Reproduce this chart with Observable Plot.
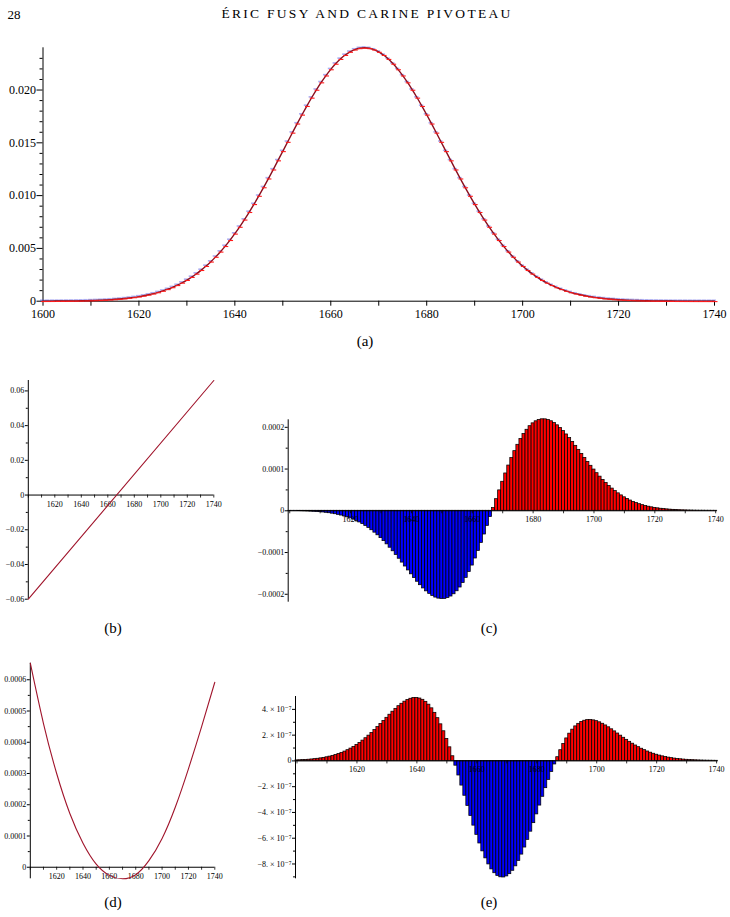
<!DOCTYPE html>
<html><head><meta charset="utf-8">
<script src="https://cdn.jsdelivr.net/npm/d3@7"></script>
<script src="https://cdn.jsdelivr.net/npm/@observablehq/plot@0.6"></script>
<style>
html,body{margin:0;padding:0;background:#fff;}
#page{position:relative;width:730px;height:917px;overflow:hidden;font-family:"Liberation Serif","Times New Roman","DejaVu Serif",serif;color:#000;background:#fff;}
.abs{position:absolute;}
.lbl{position:absolute;transform:translate(-50%,-50%);white-space:nowrap;line-height:1;}
svg{overflow:visible;}
</style></head><body><div id="page"></div>
<script>
// ---------- data ----------
const xStart = 1600; // first integer abscissa of the per-integer series
// (a) distribution, one value per integer 1600..1740
const distA = [
0.000007,0.000009,0.000011,0.000014,0.000018,0.000022,0.000028,0.000035,0.000043,0.000054,
0.000066,0.000081,0.000099,0.000121,0.000147,0.000178,0.000214,0.000257,0.000308,0.000367,
0.000436,0.000516,0.000609,0.000715,0.000838,0.000977,0.001136,0.001316,0.001519,0.001747,
0.002002,0.002285,0.002599,0.002946,0.003327,0.003744,0.004197,0.004688,0.005217,0.005786,
0.006393,0.007038,0.007721,0.008439,0.009190,0.009972,0.010781,0.011614,0.012466,0.013331,
0.014206,0.015083,0.015954,0.016817,0.017662,0.018481,0.019269,0.020017,0.020719,0.021369,
0.021958,0.022482,0.022936,0.023313,0.023611,0.023826,0.023957,0.024000,0.023957,0.023826,
0.023611,0.023313,0.022936,0.022482,0.021958,0.021369,0.020719,0.020017,0.019269,0.018481,
0.017662,0.016817,0.015954,0.015083,0.014206,0.013331,0.012466,0.011614,0.010781,0.009972,
0.009190,0.008439,0.007721,0.007038,0.006393,0.005786,0.005217,0.004688,0.004197,0.003744,
0.003327,0.002946,0.002599,0.002285,0.002002,0.001747,0.001519,0.001316,0.001136,0.000977,
0.000838,0.000715,0.000609,0.000516,0.000436,0.000367,0.000308,0.000257,0.000214,0.000178,
0.000147,0.000121,0.000099,0.000081,0.000066,0.000054,0.000043,0.000035,0.000028,0.000022,
0.000018,0.000014,0.000011,0.000009,0.000007,0.000005,0.000004,0.000003,0.000003,0.000002,
0.000002
];
// (b) straight line, end points
const lineBx = [1600, 1740];
const lineBy = [-0.060, 0.066];
// (c) first difference, one bar per integer 1600..1740
const diffC = [
-0.4e-6,-0.5e-6,-0.7e-6,-0.8e-6,-1.0e-6,-1.2e-6,-1.5e-6,-1.9e-6,-2.3e-6,-2.8e-6,
-3.3e-6,-4.0e-6,-4.8e-6,-5.8e-6,-6.9e-6,-8.2e-6,-9.7e-6,-11.4e-6,-13.4e-6,-15.6e-6,
-18.1e-6,-21.0e-6,-24.3e-6,-27.9e-6,-31.9e-6,-36.3e-6,-41.2e-6,-46.6e-6,-52.4e-6,-58.7e-6,
-65.5e-6,-72.7e-6,-80.4e-6,-88.5e-6,-97.0e-6,-105.8e-6,-114.9e-6,-124.1e-6,-133.5e-6,-142.9e-6,
-152.2e-6,-161.3e-6,-170.0e-6,-178.3e-6,-186.0e-6,-193.0e-6,-199.0e-6,-204.0e-6,-207.9e-6,-210.4e-6,
-211.5e-6,-211.1e-6,-209.1e-6,-205.4e-6,-200.0e-6,-192.8e-6,-183.8e-6,-173.1e-6,-160.7e-6,-146.7e-6,
-131.2e-6,-114.3e-6,-96.1e-6,-76.9e-6,-56.8e-6,-36.1e-6,-15.0e-6,6.4e-6,27.8e-6,48.9e-6,
69.5e-6,89.4e-6,108.4e-6,126.3e-6,142.9e-6,158.1e-6,171.8e-6,183.8e-6,194.1e-6,202.7e-6,
209.5e-6,214.4e-6,217.7e-6,219.2e-6,219.1e-6,217.5e-6,214.5e-6,210.2e-6,204.8e-6,198.3e-6,
190.9e-6,182.9e-6,174.2e-6,165.1e-6,155.6e-6,146.0e-6,136.3e-6,126.6e-6,117.1e-6,107.8e-6,
98.8e-6,90.1e-6,81.8e-6,74.0e-6,66.6e-6,59.7e-6,53.2e-6,47.3e-6,41.8e-6,36.9e-6,
32.3e-6,28.3e-6,24.6e-6,21.3e-6,18.4e-6,15.8e-6,13.5e-6,11.5e-6,9.8e-6,8.3e-6,
7.0e-6,5.9e-6,4.9e-6,4.1e-6,3.4e-6,2.8e-6,2.3e-6,1.9e-6,1.5e-6,1.2e-6,
1.0e-6,0.8e-6,0.7e-6,0.5e-6,0.4e-6,0.3e-6,0.3e-6,0.2e-6,0.2e-6,0.1e-6,
0.1e-6
];
// (d) curve, read every 10 units
const curveDx = [1600,1610,1620,1630,1640,1650,1660,1670,1680,1690,1700,1710,1720,1730,1740];
const curveDy = [0.000653,0.000460,0.000300,0.000172,0.000077,0.000010,-0.000026,-0.000037,-0.000024,0.000021,0.000092,0.000192,0.000315,0.000450,0.000592];
// (e) second difference, one bar per integer 1600..1740
const diffE = [
4.2e-9,5.1e-9,6.3e-9,7.7e-9,9.3e-9,11.4e-9,13.8e-9,16.6e-9,19.8e-9,23.7e-9,
28.2e-9,33.4e-9,39.3e-9,46.2e-9,53.9e-9,62.6e-9,72.4e-9,83.4e-9,95.7e-9,109.1e-9,
123.9e-9,140.0e-9,157.5e-9,176.2e-9,196.2e-9,217.4e-9,239.5e-9,262.6e-9,286.3e-9,310.4e-9,
334.6e-9,358.5e-9,381.9e-9,404.1e-9,424.9e-9,443.6e-9,459.9e-9,472.9e-9,482.5e-9,487.9e-9,
488.7e-9,484.3e-9,474.4e-9,458.6e-9,436.6e-9,408.2e-9,373.2e-9,331.8e-9,284.0e-9,230.1e-9,
170.5e-9,105.6e-9,36.2e-9,-37.0e-9,-113.2e-9,-191.4e-9,-270.5e-9,-349.4e-9,-427.1e-9,-502.3e-9,
-573.9e-9,-640.8e-9,-702.0e-9,-756.4e-9,-803.4e-9,-842.1e-9,-871.8e-9,-892.4e-9,-903.4e-9,-904.7e-9,
-896.5e-9,-879.1e-9,-852.8e-9,-818.2e-9,-776.0e-9,-727.1e-9,-672.3e-9,-612.7e-9,-549.2e-9,-483.1e-9,
-415.1e-9,-346.6e-9,-278.5e-9,-211.7e-9,-147.1e-9,-85.5e-9,-27.5e-9,28.9e-9,83.1e-9,131.7e-9,
174.5e-9,211.5e-9,242.7e-9,268.0e-9,287.9e-9,302.4e-9,311.9e-9,316.8e-9,317.7e-9,314.7e-9,
308.6e-9,299.6e-9,288.4e-9,275.4e-9,260.9e-9,245.4e-9,229.2e-9,212.7e-9,196.1e-9,179.7e-9,
163.7e-9,148.3e-9,133.7e-9,119.7e-9,106.6e-9,94.6e-9,83.5e-9,73.2e-9,63.9e-9,55.6e-9,
48.1e-9,41.4e-9,35.4e-9,30.1e-9,25.6e-9,21.6e-9,18.2e-9,15.2e-9,12.8e-9,10.5e-9,
8.7e-9,7.2e-9,5.9e-9,4.8e-9,3.9e-9,3.2e-9,2.5e-9,2.0e-9,1.7e-9,1.3e-9,
1.0e-9
];
// tick values and labels
const xTicks10 = [1600,1610,1620,1630,1640,1650,1660,1670,1680,1690,1700,1710,1720,1730,1740];
const xLabelsA = [1600,1620,1640,1660,1680,1700,1720,1740];
const xLabelsSmall = [1620,1640,1660,1680,1700,1720,1740];
const yTicksA = [0,0.005,0.010,0.015,0.020];
const yMinorA = [0.001,0.002,0.003,0.004,0.006,0.007,0.008,0.009,0.011,0.012,0.013,0.014,0.016,0.017,0.018,0.019,0.021,0.022,0.023];
const yTicksB = [-0.06,-0.04,-0.02,0,0.02,0.04,0.06];
const yMinorB = [-0.05,-0.03,-0.01,0.01,0.03,0.05];
const yTicksC = [-0.0002,-0.0001,0,0.0001,0.0002];
const yMinorC = [-0.00015,-0.00005,0.00005,0.00015];
const yTicksD = [0,0.0001,0.0002,0.0003,0.0004,0.0005,0.0006];
const yMinorD = [0.00005,0.00015,0.00025,0.00035,0.00045,0.00055];
const yTicksE = [-8e-7,-6e-7,-4e-7,-2e-7,0,2e-7,4e-7];
const yMinorE = [-9e-7,-7e-7,-5e-7,-3e-7,-1e-7,1e-7,3e-7];

// ---------- helpers ----------
const page = document.getElementById("page");
const perInt = vals => vals.map((v, i) => ({n: xStart + i, v}));
function place(node, left, top, w) {
  const d = document.createElement("div");
  d.className = "abs"; d.style.left = left + "px"; d.style.top = top + "px"; d.style.width = w + "px";
  d.appendChild(node); page.appendChild(d);
}
function label(text, cx, cy, size, extra) {
  const d = document.createElement("div");
  d.className = "lbl"; d.textContent = text;
  d.style.left = cx + "px"; d.style.top = cy + "px"; d.style.fontSize = size + "px";
  if (extra) Object.assign(d.style, extra);
  page.appendChild(d);
}
const minus = s => s.replace("-", "\u2212");
const DARKRED = "#a0142b";
const SERIF = "'Liberation Serif', 'Times New Roman', 'DejaVu Serif', serif";
const smallStyle = {fontFamily: SERIF, fontSize: "8px", background: "transparent", overflow: "visible"};
// horizontal dash marker symbols for panel (a)
const dashSymbol = {draw(ctx) { ctx.moveTo(-2.4, 0); ctx.lineTo(2.4, 0); }};
const barSymbol = {draw(ctx) { ctx.rect(-2.2, -0.8, 4.4, 1.6); }};

function xAxisMid(labels) {
  return [
    Plot.ruleY([0], {stroke: "#000", strokeWidth: 1}),
    Plot.ruleX(xTicks10, {x: d => d, y1: 0, y2: 0, insetTop: 0, insetBottom: -3, stroke: "#000", strokeWidth: 0.8}),
    Plot.text(labels, {x: d => d, y: 0, dy: 9, text: d => String(d), fontSize: 8, fill: "#000"})
  ];
}

// ---------- header ----------
label("28", 14, 14, 13);
label("ÉRIC FUSY AND CARINE PIVOTEAU", 367, 14, 13.5, {letterSpacing: "2.3px"});

// ---------- (a) ----------
const dataA = perInt(distA);
place(Plot.plot({
  width: 730, height: 280,
  marginTop: 7.3, marginBottom: 19.3, marginLeft: 42.5, marginRight: 16,
  x: {domain: [1600, 1740], axis: null, label: null},
  y: {domain: [0, 0.024], axis: null, label: null},
  style: {fontFamily: SERIF, fontSize: "12px", background: "transparent", overflow: "visible"},
  marks: [
    Plot.ruleX([1600], {stroke: "#000"}),
    Plot.ruleY([0], {stroke: "#000"}),
    Plot.axisY(yTicksA, {tickSize: 6, tickPadding: 1, label: null, tickFormat: d => d === 0 ? "0" : d.toFixed(3)}),
    Plot.axisY(yMinorA, {tickSize: 3, label: null, tickFormat: () => ""}),
    Plot.axisX(xTicks10, {tickSize: 5, tickPadding: 3, label: null, tickFormat: d => xLabelsA.includes(d) ? String(d) : ""}),
    Plot.dot(dataA, {x: "n", y: "v", symbol: barSymbol, r: 2, fill: "#4a4ae0", fillOpacity: 0.45, stroke: "none", dy: -0.9, dx: -0.8}),
    Plot.line(dataA, {x: "n", y: "v", stroke: "#8a0f1e", strokeWidth: 1.4, curve: "catmull-rom"}),
    Plot.dot(dataA, {x: "n", y: "v", symbol: dashSymbol, r: 2, stroke: "#ff1a1a", strokeWidth: 1.1, dx: 0.6, dy: 0.4})
  ]
}), 0, 40, 730);
label("(a)", 365, 341, 15);

// ---------- (b) ----------
const dataB = lineBx.map((x, i) => ({x, y: lineBy[i]}));
place(Plot.plot({
  width: 230, height: 240,
  marginTop: 10, marginBottom: 11.3, marginLeft: 27.8, marginRight: 16.7,
  x: {domain: [1600, 1740], axis: null, label: null},
  y: {domain: [-0.06, 0.066], axis: null, label: null},
  style: smallStyle,
  marks: [
    Plot.ruleX([1600], {stroke: "#000"}),
    Plot.axisY(yTicksB, {tickSize: 3, tickPadding: 1, label: null, tickFormat: d => d === 0 ? "0" : minus(d.toFixed(2))}),
    Plot.axisY(yMinorB, {tickSize: 2, label: null, tickFormat: () => ""}),
    ...xAxisMid(xLabelsSmall),
    Plot.line(dataB, {x: "x", y: "y", stroke: DARKRED, strokeWidth: 1.1})
  ]
}), 0, 370, 230);
label("(b)", 113, 628, 15);

// ---------- (c) ----------
const dataC = perInt(diffC);
place(Plot.plot({
  width: 490, height: 200,
  marginTop: 9.3, marginBottom: 8.3, marginLeft: 47.7, marginRight: 13.3,
  x: {domain: [1599.5, 1740.5], axis: null, label: null},
  y: {domain: [-0.000219, 0.000218], axis: null, label: null},
  style: smallStyle,
  marks: [
    Plot.rect(dataC, {filter: d => d.v >= 0, x1: d => d.n - 0.5, x2: d => d.n + 0.5, y1: 0, y2: "v", fill: "#ff0000", stroke: "#000", strokeWidth: 0.75}),
    Plot.rect(dataC, {filter: d => d.v < 0, x1: d => d.n - 0.5, x2: d => d.n + 0.5, y1: 0, y2: "v", fill: "#0000ff", stroke: "#000", strokeWidth: 0.75}),
    Plot.ruleX([1599.5], {stroke: "#000"}),
    Plot.axisY(yTicksC, {tickSize: 3, tickPadding: 1, label: null, tickFormat: d => d === 0 ? "0" : minus(d.toFixed(4))}),
    Plot.axisY(yMinorC, {tickSize: 2, label: null, tickFormat: () => ""}),
    ...xAxisMid(xLabelsSmall)
  ]
}), 240, 410, 490);
label("(c)", 489, 628, 15);

// ---------- (d) ----------
const dataD = curveDx.map((x, i) => ({x, y: curveDy[i]}));
place(Plot.plot({
  width: 230, height: 240,
  marginTop: 12.7, marginBottom: 11.7, marginLeft: 29.8, marginRight: 15.7,
  x: {domain: [1600, 1740], axis: null, label: null},
  y: {domain: [-0.000037, 0.000653], axis: null, label: null},
  style: smallStyle,
  marks: [
    Plot.ruleX([1600], {stroke: "#000"}),
    Plot.axisY(yTicksD, {tickSize: 3, tickPadding: 1, label: null, tickFormat: d => d === 0 ? "0" : d.toFixed(4)}),
    Plot.axisY(yMinorD, {tickSize: 2, label: null, tickFormat: () => ""}),
    ...xAxisMid(xLabelsSmall),
    Plot.line(dataD, {x: "x", y: "y", stroke: DARKRED, strokeWidth: 1.1, curve: "natural"})
  ]
}), 0, 650, 230);
label("(d)", 113, 902, 15);

// ---------- (e) ----------
const dataE = perInt(diffE);
place(Plot.plot({
  width: 490, height: 205,
  marginTop: 11, marginBottom: 11.7, marginLeft: 55, marginRight: 12.4,
  x: {domain: [1599.5, 1740.5], axis: null, label: null},
  y: {domain: [-9.15e-7, 5.0e-7], axis: null, label: null},
  style: smallStyle,
  marks: [
    Plot.rect(dataE, {filter: d => d.v >= 0, x1: d => d.n - 0.5, x2: d => d.n + 0.5, y1: 0, y2: "v", fill: "#ff0000", stroke: "#000", strokeWidth: 0.75}),
    Plot.rect(dataE, {filter: d => d.v < 0, x1: d => d.n - 0.5, x2: d => d.n + 0.5, y1: 0, y2: "v", fill: "#0000ff", stroke: "#000", strokeWidth: 0.75}),
    Plot.ruleX([1599.5], {stroke: "#000"}),
    Plot.axisY(yTicksE, {tickSize: 3, tickPadding: 1, label: null,
      tickFormat: d => d === 0 ? "0" : (d < 0 ? "\u2212" : "") + Math.round(Math.abs(d) * 1e7) + ". \u00d7 10\u207b\u2077"}),
    Plot.axisY(yMinorE, {tickSize: 2, label: null, tickFormat: () => ""}),
    ...xAxisMid(xLabelsSmall)
  ]
}), 240, 685, 490);
label("(e)", 489, 902, 15);
</script></body></html>
